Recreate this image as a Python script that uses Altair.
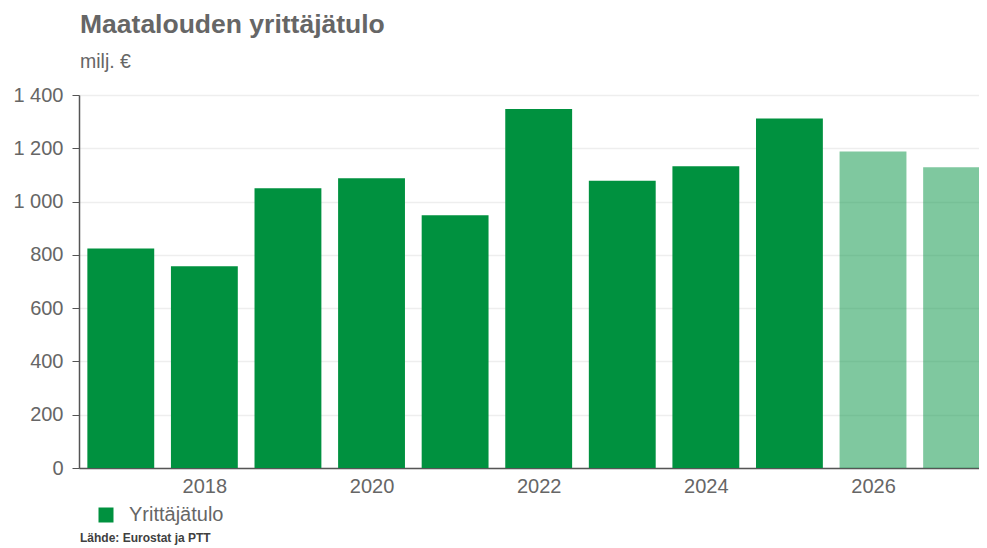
import altair as alt
import pandas as pd

years = [2017, 2018, 2019, 2020, 2021, 2022, 2023, 2024, 2025, 2026, 2027]
values = [824, 757, 1050, 1088, 949, 1347, 1078, 1133, 1312, 1188, 1129]
kind = ["toteutunut"] * 9 + ["ennuste"] * 2
series_name = "Yrittäjätulo"
x_labels = [2018, 2020, 2022, 2024, 2026]
y_ticks = [0, 200, 400, 600, 800, 1000, 1200, 1400]

TITLE = "Maatalouden yrittäjätulo"
SUBTITLE = "milj. €"
SOURCE = "Lähde: Eurostat ja PTT"

GREEN = "#00913F"
GRAY = "#666666"
FONT = "Liberation Sans"

df = pd.DataFrame({"vuosi": years, "arvo": values, "tyyppi": kind, "sarja": series_name})

W = 900
H = 373
STEP = 83.58
x_dom = [2016.5, 2016.5 + W / STEP]

bars = alt.Chart(df).transform_calculate(
    x0="datum.vuosi - 0.4", x1="datum.vuosi + 0.4"
).mark_bar(clip=True, orient="vertical").encode(
    x=alt.X("x0:Q", scale=alt.Scale(domain=x_dom, nice=False, zero=False, padding=0),
            axis=alt.Axis(values=x_labels, format="d", ticks=False, grid=False,
                          labelFontSize=20, labelColor=GRAY, labelPadding=8,
                          domainColor="#555555", domainWidth=1.5, title=None,
                          labelFont=FONT)),
    x2="x1:Q",
    y=alt.Y("arvo:Q", scale=alt.Scale(domain=[0, 1400], nice=False, padding=0),
            axis=alt.Axis(values=y_ticks, title=None, labelFontSize=20, labelColor=GRAY,
                          labelFont=FONT, tickSize=7, tickColor="#555555",
                          domainColor="#555555", domainWidth=1.5, labelPadding=9,
                          gridColor="#EEEEEE", gridWidth=1.5,
                          labelExpr="replace(format(datum.value, ','), ',', ' ')")),
    y2=alt.Y2(datum=0),
    color=alt.Color("sarja:N", scale=alt.Scale(domain=[series_name], range=[GREEN]),
                    legend=alt.Legend(title=None, orient="none", legendX=17, legendY=410,
                                      symbolType="square", symbolSize=225,
                                      symbolStrokeWidth=0, labelFontSize=20,
                                      labelColor=GRAY, labelFont=FONT, labelOffset=13,
                                      padding=0)),
    opacity=alt.Opacity("tyyppi:N", scale=alt.Scale(domain=["toteutunut", "ennuste"],
                                                     range=[1, 0.5]), legend=None),
)

title = alt.Chart(pd.DataFrame({"t": [TITLE]})).mark_text(
    align="left", baseline="alphabetic", fontSize=26.5, fontWeight="bold", color=GRAY, font=FONT
).encode(x=alt.value(1), y=alt.value(-62), text="t:N")

subtitle = alt.Chart(pd.DataFrame({"t": [SUBTITLE]})).mark_text(
    align="left", baseline="alphabetic", fontSize=19.5, color=GRAY, font=FONT
).encode(x=alt.value(1), y=alt.value(-27), text="t:N")

source = alt.Chart(pd.DataFrame({"t": [SOURCE]})).mark_text(
    align="left", baseline="alphabetic", fontSize=12, fontWeight="bold", color="#404040", font=FONT
).encode(x=alt.value(1), y=alt.value(447), text="t:N")

chart = alt.layer(bars, title, subtitle, source).properties(
    width=W, height=H,
    autosize=alt.AutoSizeParams(type="none"),
    padding={"left": 71, "top": 87, "right": 0, "bottom": 79},
).configure_view(stroke=None).configure(font=FONT)

chart.save("out.html", embed_options={"renderer": "svg", "actions": False})
